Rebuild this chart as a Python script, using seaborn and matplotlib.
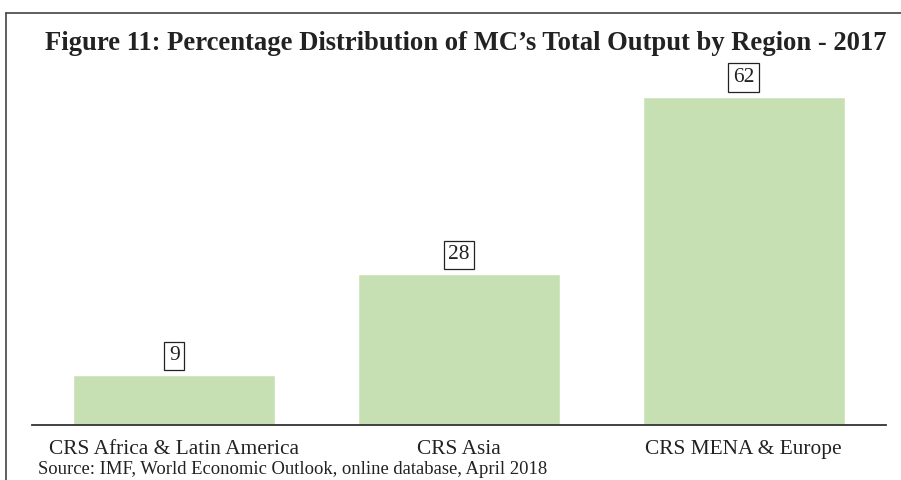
import matplotlib
matplotlib.use("Agg")
import matplotlib.pyplot as plt
from matplotlib.lines import Line2D
import seaborn as sns
import pandas as pd

regions = ["CRS Africa & Latin America", "CRS Asia", "CRS MENA & Europe"]
shares = [9.4, 28.5, 62.0]
title = "Figure 11: Percentage Distribution of MC\u2019s Total Output by Region - 2017"
source = "Source: IMF, World Economic Outlook, online database, April 2018"

sns.set_theme(style="white")
plt.rcParams["font.family"] = ["Liberation Serif", "DejaVu Serif"]

W, H = 901, 480
fig = plt.figure(figsize=(W / 100, H / 100), dpi=100)
ax = fig.add_axes([32 / W, 1 - 425 / H, (886 - 32) / W, (425 - 60) / H])

df = pd.DataFrame({"region": regions, "share": shares})
sns.barplot(data=df, x="region", y="share", hue="region", palette=["#c6e0b4"] * 3,
            legend=False, width=0.71, ax=ax, saturation=1)

ax.set_xlim(-0.5, 2.5)
ax.set_ylim(0, 69)
ax.set_xlabel("")
ax.set_ylabel("")
ax.set_yticks([])
for s in ["left", "right", "top"]:
    ax.spines[s].set_visible(False)
ax.spines["bottom"].set_color("#333333")
ax.spines["bottom"].set_linewidth(1.3)
ax.tick_params(axis="x", length=0, labelsize=15.4, labelcolor="#222222", pad=11)

for i, v in enumerate(shares):
    ax.annotate(f"{v:.0f}", xy=(i, v), xytext=(0, 14), textcoords="offset points",
                ha="center", va="center", fontsize=15.4, color="#222222",
                bbox=dict(boxstyle="square,pad=0.22", fc="white", ec="#222222", lw=0.9))

fig.text(466 / W, 1 - 43 / H, title, ha="center", va="center", fontsize=19.2,
         fontweight="bold", color="#222222")
fig.text(38 / W, 1 - 470 / H, source, ha="left", va="center", fontsize=13.4, color="#222222")

# frame
fig.add_artist(Line2D([6 / W, 6 / W], [0, 1 - 13 / H], transform=fig.transFigure,
                      color="#444444", lw=1.2))
fig.add_artist(Line2D([6 / W, 1], [1 - 13 / H, 1 - 13 / H], transform=fig.transFigure,
                      color="#444444", lw=1.2))

fig.savefig("out.png", dpi=100)
